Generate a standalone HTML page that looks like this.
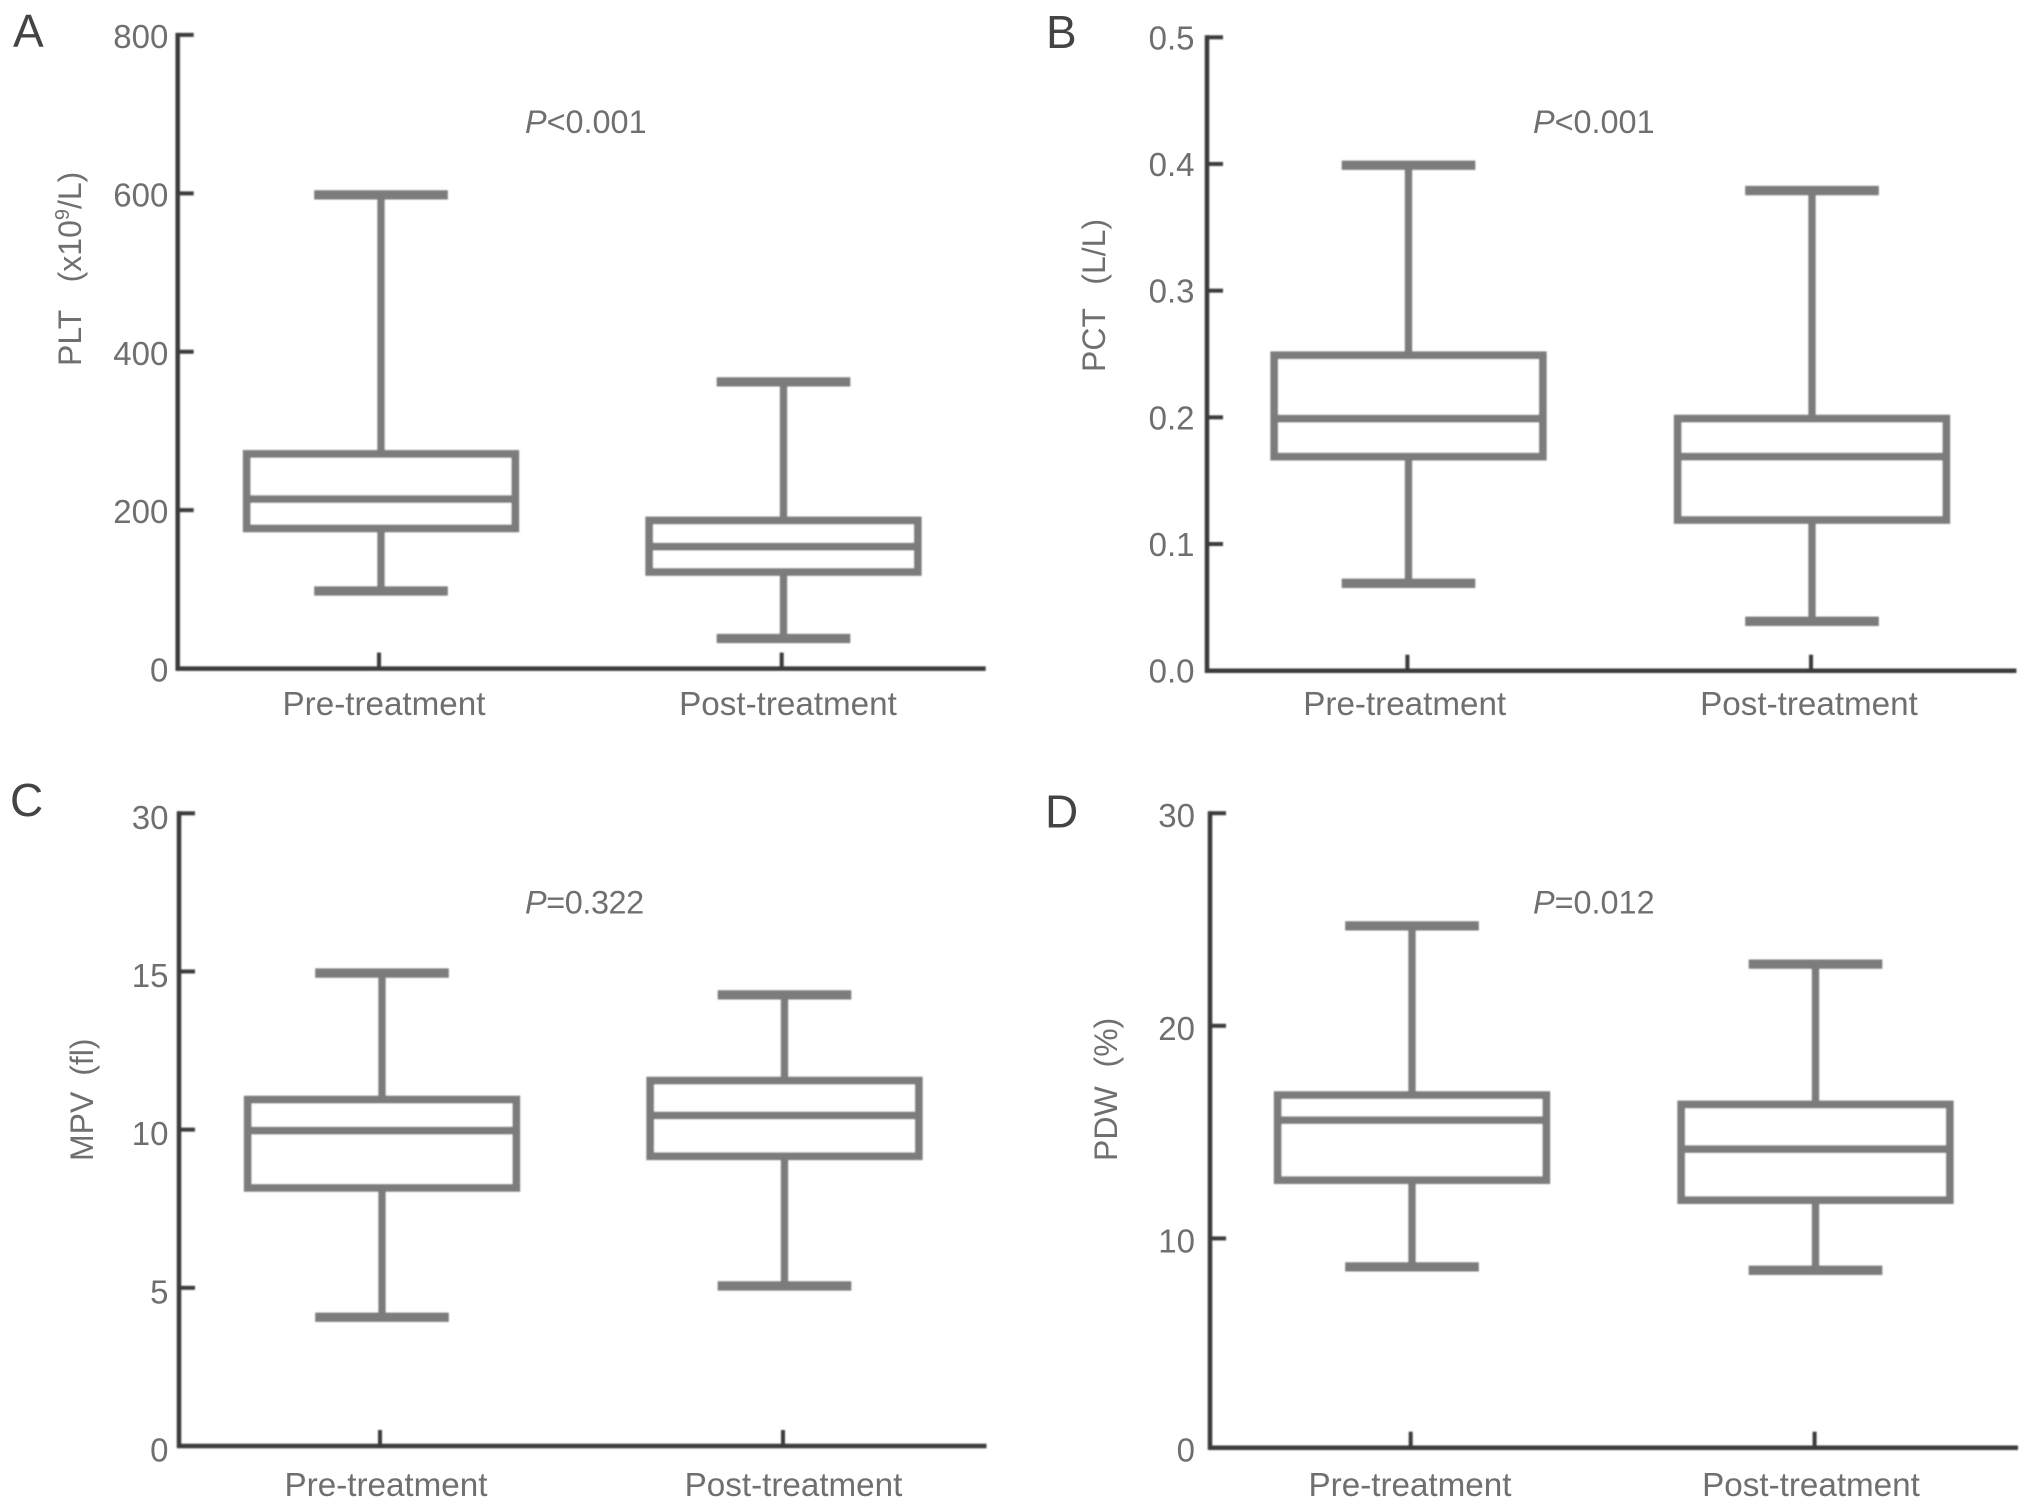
<!DOCTYPE html>
<html lang="en">
<head>
<meta charset="utf-8">
<title>Platelet parameters before and after treatment</title>
<style>
html,body{margin:0;padding:0;background:#fff;}
svg{display:block;}
text{font-family:"Liberation Sans",sans-serif;fill:#6f6f6f;}
.panel-letter{font-size:46px;fill:#444444;}
.tick-label{font-size:33px;text-anchor:end;}
.cat-label{font-size:33.2px;text-anchor:middle;}
.p-label{font-size:32.4px;}
.y-title{font-size:32px;}
</style>
</head>
<body>
<svg id="figure" xmlns="http://www.w3.org/2000/svg" width="2032" height="1509" viewBox="0 0 2032 1509">
  <defs>
    <filter id="soften" x="-5%" y="-5%" width="110%" height="110%"><feGaussianBlur stdDeviation="0.7"/></filter>
  </defs>
  <rect x="0" y="0" width="2032" height="1509" fill="#ffffff"/>

  <text class="panel-letter" x="13" y="47">A</text>
  <text class="panel-letter" x="1046" y="48">B</text>
  <text class="panel-letter" x="10" y="816">C</text>
  <text class="panel-letter" x="1045" y="827.5">D</text>

  <text class="p-label" x="525" y="133"><tspan font-style="italic">P</tspan>&lt;0.001</text>
  <text class="p-label" x="1533" y="133"><tspan font-style="italic">P</tspan>&lt;0.001</text>
  <text class="p-label" x="525" y="913.5" letter-spacing="-0.4"><tspan font-style="italic">P</tspan>=0.322</text>
  <text class="p-label" x="1533" y="913.5"><tspan font-style="italic">P</tspan>=0.012</text>

  <text class="y-title" transform="translate(81,366) rotate(-90)">PLT <tspan dx="19">(x10</tspan><tspan font-size="20" dy="-12">9</tspan><tspan dy="12">/L)</tspan></text>
  <text class="y-title" transform="translate(1105,372) rotate(-90)">PCT <tspan dx="15">(L/L)</tspan></text>
  <text class="y-title" transform="translate(93,1161) rotate(-90)">MPV <tspan dx="7">(fl)</tspan></text>
  <text class="y-title" transform="translate(1117,1161) rotate(-90)">PDW <tspan dx="10">(%)</tspan></text>

  <g id="plots"></g>
</svg>

<script>
// ---- Data ----
const categories = ['Pre-treatment', 'Post-treatment'];

// each series: [low whisker, Q1, median, Q3, high whisker]
const plateletCountPre  = [98, 177, 214, 271, 598];
const plateletCountPost = [38, 122, 154, 187, 362];
const plateletCritPre   = [0.069, 0.169, 0.199, 0.249, 0.399];
const plateletCritPost  = [0.039, 0.119, 0.169, 0.199, 0.379];
const meanVolumePre     = [4.07, 8.16, 9.97, 10.95, 14.95];
const meanVolumePost    = [5.06, 9.16, 10.45, 11.55, 14.26];
const distWidthPre      = [8.66, 12.74, 15.56, 16.74, 24.7];
const distWidthPost     = [8.5, 11.8, 14.2, 16.3, 22.9];

const tickValuesA = [0, 200, 400, 600, 800];
const tickLabelsA = ['0', '200', '400', '600', '800'];
const tickValuesB = [0, 0.1, 0.2, 0.3, 0.4, 0.5];
const tickLabelsB = ['0.0', '0.1', '0.2', '0.3', '0.4', '0.5'];
const tickValuesC = [0, 5, 10, 15, 30];
const tickLabelsC = ['0', '5', '10', '15', '30'];
const tickValuesD = [0, 10, 20, 30];
const tickLabelsD = ['0', '10', '20', '30'];

// ---- Layout ----
// yBottom/yTop span the scale; zeroY is where the x-axis line is actually drawn.
const panelA = {key:'a', series:[plateletCountPre, plateletCountPost], ticks:tickValuesA, labels:tickLabelsA,
  axisX:177.7, xEnd:985.7, yBottom:668.6, zeroY:668.6, yTop:34.9, tickX:[379,781.7], centerX:[381,783.5], catX:[384,788], catY:715, labelRight:168.3, labelDy:13, zeroLabelY:681.6};
const panelB = {key:'b', series:[plateletCritPre, plateletCritPost], ticks:tickValuesB, labels:tickLabelsB,
  axisX:1207, xEnd:2016.4, yBottom:670.7, zeroY:670.7, yTop:37.3, tickX:[1407.4,1811], centerX:[1408.5,1812], catX:[1404.7,1809], catY:715, labelRight:1194.5, labelDy:12, zeroLabelY:682.7};
const panelC = {key:'c', series:[meanVolumePre, meanVolumePost], ticks:tickValuesC, labels:tickLabelsC,
  axisX:179, xEnd:986.5, yBottom:1446, zeroY:1446, yTop:813.3, tickX:[380,783], centerX:[382,784.5], catX:[386,793.5], catY:1496, labelRight:168.5, labelDy:15.5, zeroLabelY:1461.7};
const panelD = {key:'d', series:[distWidthPre, distWidthPost], ticks:tickValuesD, labels:tickLabelsD,
  axisX:1210, xEnd:2018, yBottom:1451, zeroY:1447.7, yTop:813.2, tickX:[1410.7,1814.6], centerX:[1412,1815.5], catX:[1410,1811], catY:1496, labelRight:1195, labelDy:14, zeroLabelY:1461.7};
const panels = [panelA, panelB, panelC, panelD];

const BOX_HALF = 134.3, CAP_HALF = 66.8;
const AXIS_COLOR = '#3a3a3a', MARK_COLOR = '#7b7b7b';
const SVG_NS = 'http://www.w3.org/2000/svg';
const root = document.getElementById('plots');

function make(parent, tag, attrs) {
  const node = document.createElementNS(SVG_NS, tag);
  for (const k in attrs) node.setAttribute(k, attrs[k]);
  parent.appendChild(node);
  return node;
}

// Axis function: ticks are evenly spaced on the page, so map piecewise between them.
function yScale(panel, value) {
  const t = panel.ticks;
  const step = (panel.yBottom - panel.yTop) / (t.length - 1);
  let i = 0;
  while (i < t.length - 2 && value > t[i + 1]) i++;
  return panel.yBottom - (i + (value - t[i]) / (t[i + 1] - t[i])) * step;
}

panels.forEach(function (panel) {
  const group = make(root, 'g', {});
  
  

  const marks = make(group, 'g', {filter:'url(#soften)'});
  
  

  const yAxis = make(marks, 'line', {x1:panel.axisX, x2:panel.axisX, y1:panel.yTop - 2, y2:panel.zeroY + 2, stroke:AXIS_COLOR, 'stroke-width':4.5});
  
  

  const xAxis = make(marks, 'line', {x1:panel.axisX - 2, x2:panel.xEnd, y1:panel.zeroY, y2:panel.zeroY, stroke:AXIS_COLOR, 'stroke-width':4.5});
  
  

  panel.ticks.forEach(function (v, i) {
    const y = yScale(panel, v);
    if (v !== 0) {
      const tick = make(marks, 'line', {x1:panel.axisX, x2:panel.axisX + 16, y1:y, y2:y, stroke:AXIS_COLOR, 'stroke-width':4});
      
      
    }
    const label = make(group, 'text', {class:'tick-label', x:panel.labelRight, y:(v === 0 ? panel.zeroLabelY : y + panel.labelDy)});
    label.textContent = panel.labels[i];
    
    
  });

  categories.forEach(function (cat, i) {
    const slug = cat.toLowerCase();
    const tick = make(marks, 'line', {x1:panel.tickX[i], x2:panel.tickX[i], y1:panel.zeroY - 16, y2:panel.zeroY, stroke:AXIS_COLOR, 'stroke-width':4});
    
    

    const catLabel = make(group, 'text', {class:'cat-label', x:panel.catX[i], y:panel.catY});
    catLabel.textContent = cat;
    
    

    const s = panel.series[i];
    const cx = panel.centerX[i];
    const yLow = yScale(panel, s[0]), yQ1 = yScale(panel, s[1]), yMed = yScale(panel, s[2]), yQ3 = yScale(panel, s[3]), yHigh = yScale(panel, s[4]);

    const box = make(marks, 'g', {});
    
    

    const whiskerHigh = make(box, 'line', {x1:cx, x2:cx, y1:yHigh, y2:yQ3, stroke:MARK_COLOR, 'stroke-width':7.3});
    
    

    const whiskerLow = make(box, 'line', {x1:cx, x2:cx, y1:yQ1, y2:yLow, stroke:MARK_COLOR, 'stroke-width':7.3});
    
    

    const capHigh = make(box, 'line', {x1:cx - CAP_HALF, x2:cx + CAP_HALF, y1:yHigh, y2:yHigh, stroke:MARK_COLOR, 'stroke-width':9.3});
    
    

    const capLow = make(box, 'line', {x1:cx - CAP_HALF, x2:cx + CAP_HALF, y1:yLow, y2:yLow, stroke:MARK_COLOR, 'stroke-width':9.3});
    
    

    const rect = make(box, 'rect', {x:cx - BOX_HALF, y:yQ3, width:BOX_HALF * 2, height:yQ1 - yQ3, fill:'#ffffff', stroke:MARK_COLOR, 'stroke-width':7.7});
    
    

    const median = make(box, 'line', {x1:cx - BOX_HALF, x2:cx + BOX_HALF, y1:yMed, y2:yMed, stroke:MARK_COLOR, 'stroke-width':7.7});
    
    
  });
});
</script>
</body>
</html>
